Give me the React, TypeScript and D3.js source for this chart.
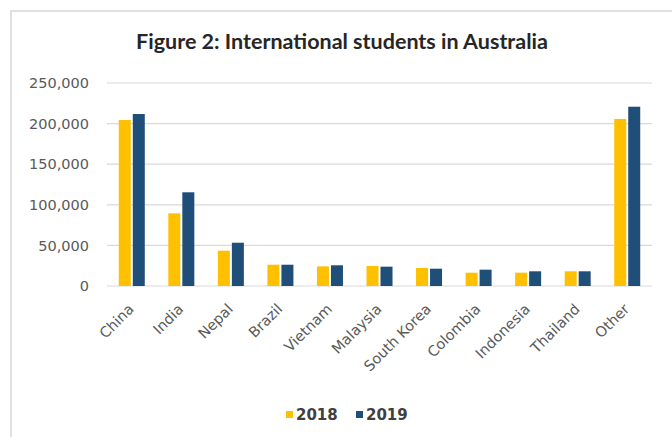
import React, { useEffect } from "react";
import * as d3 from "d3";

const categories = ["China", "India", "Nepal", "Brazil", "Vietnam", "Malaysia", "South Korea", "Colombia", "Indonesia", "Thailand", "Other"];
const series = ["2018", "2019"];
const values2018 = [204400, 89500, 43500, 26200, 24200, 24600, 22200, 16400, 16400, 18100, 205700];
const values2019 = [211800, 115400, 53300, 26200, 25500, 23800, 21300, 20100, 18100, 18100, 220800];
const yTicks = [0, 50000, 100000, 150000, 200000, 250000];
const colors = ["#FFC000", "#1F4E79"];

const W = 672, H = 437;
const plot = { left: 107, right: 652, top: 83, bottom: 286 };
const TITLE_FONT = "Lato, 'Open Sans', sans-serif";
const FONT = "'DejaVu Sans', sans-serif";

export default function App() {
  useEffect(() => {
    document.body.style.margin = "0";
  }, []);

  const x0 = d3.scaleBand<string>().domain(categories).range([plot.left, plot.right]).padding(0);
  const x1 = d3.scaleBand<string>().domain(series).range([0, x0.bandwidth()]).paddingInner(0.143).paddingOuter(0.84);
  const y = d3.scaleLinear().domain([0, 250000]).range([plot.bottom, plot.top]);
  const fmt = d3.format(",");
  const data = [values2018, values2019];

  return (
    <svg width={W} height={H} style={{ display: "block", background: "#fff" }}>
      <rect x={11} y={11} width={W + 20} height={H + 20} fill="#fff" stroke="#d6d6d6" strokeWidth={1.5} />
      <text x={342} y={49} textAnchor="middle" fontFamily={TITLE_FONT} fontWeight="bold" fontSize={21.5} fill="#262626">
        Figure 2: International students in Australia
      </text>
      {yTicks.map((t) => (
        <g key={t}>
          <line x1={plot.left} x2={plot.right} y1={y(t)} y2={y(t)} stroke="#d9d9d9" strokeWidth={1.2} />
          <text x={89} y={y(t)} dy="0.36em" textAnchor="end" fontFamily={FONT} fontSize={14.5} fill="#595959">
            {fmt(t)}
          </text>
        </g>
      ))}
      {categories.map((c, i) => (
        <g key={c}>
          {series.map((s, j) => (
            <rect
              key={s}
              x={(x0(c) as number) + (x1(s) as number)}
              y={y(data[j][i])}
              width={x1.bandwidth()}
              height={plot.bottom - y(data[j][i])}
              fill={colors[j]}
            />
          ))}
          <text
            transform={`translate(${(x0(c) as number) + x0.bandwidth() / 2 + 3},${plot.bottom + 24}) rotate(-45)`}
            textAnchor="end"
            fontFamily={FONT}
            fontSize={14.5}
            fill="#595959"
          >
            {c}
          </text>
        </g>
      ))}
      {series.map((s, j) => {
        const lx = j === 0 ? 286 : 356;
        return (
          <g key={s}>
            <rect x={lx} y={411} width={7} height={7} fill={colors[j]} />
            <text x={lx + 10} y={419.5} fontFamily={FONT} fontWeight="bold" fontSize={15} fill="#404040">
              {s}
            </text>
          </g>
        );
      })}
    </svg>
  );
}
